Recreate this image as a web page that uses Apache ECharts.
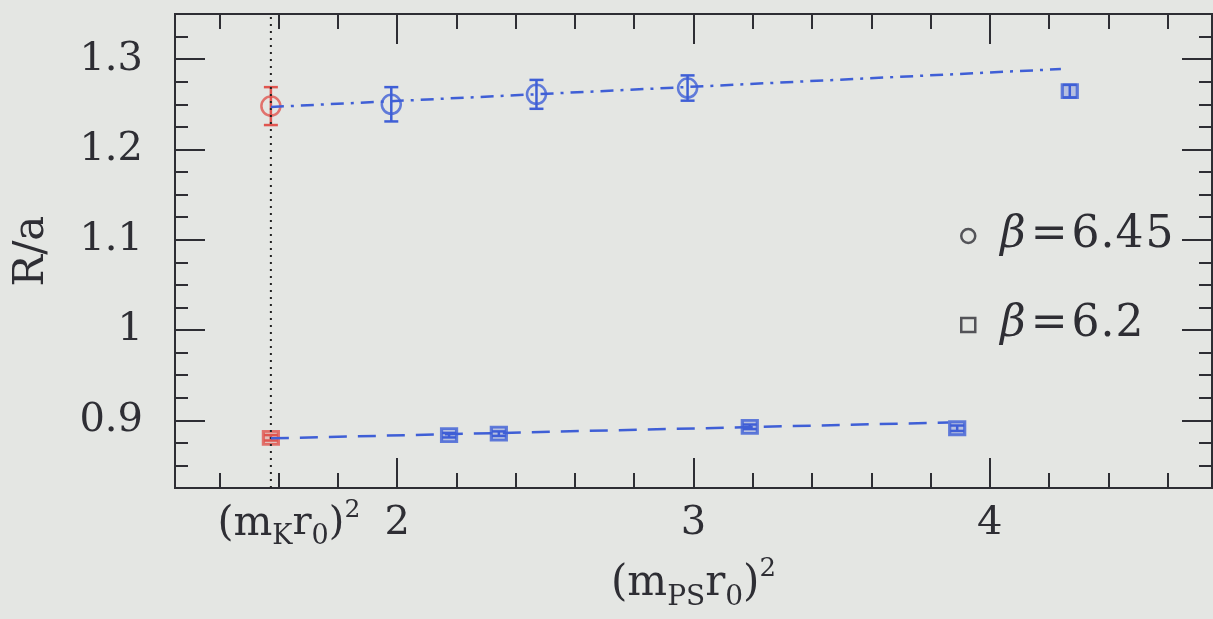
<!DOCTYPE html>
<html><head><meta charset="utf-8">
<script src="https://cdn.jsdelivr.net/npm/echarts@6/dist/echarts.min.js"></script>
<style>html,body{margin:0;padding:0;background:#e4e6e3;}#c{width:1213px;height:619px;}</style>
</head><body><div id="c"></div>
<script>
// ---- data ----
const mKr0sq = 1.5736;
const xMajorTicks = [2, 3, 4];
const xLabelValues = [1.5736, 2, 3, 4];
const xMinorTicks = [1.4, 1.6, 1.8, 2.2, 2.4, 2.6, 2.8, 3.2, 3.4, 3.6, 3.8, 4.2, 4.4, 4.6];
const yMajorTicks = [0.9, 1.0, 1.1, 1.2, 1.3];
const yMinorTicks = [0.85, 0.875, 0.925, 0.95, 0.975, 1.025, 1.05, 1.075, 1.125, 1.15, 1.175, 1.225, 1.25, 1.275, 1.325];

// beta = 6.45 (circles)
const circX = [1.98, 2.47, 2.98];
const circY = [1.250, 1.261, 1.268];
const circErr = [0.019, 0.016, 0.014];
// beta = 6.2 (squares)
const sqX = [2.175, 2.343, 3.19, 3.89, 4.27];
const sqY = [0.8835, 0.8852, 0.8928, 0.8912, 1.2645];
const sqErr = [0.0025, 0.0025, 0.0025, 0.003, 0.007];
// interpolated values at (m_K r0)^2 (red)
const chiralCircY = [1.248];
const chiralCircErr = [0.021];
const chiralSqY = [0.8806];
const chiralSqErr = [0.003];
// fit lines
const fit645X = [1.5736, 4.24];
const fit645Y = [1.247, 1.289];
const fit62X = [1.5736, 3.86];
const fit62Y = [0.8800, 0.8976];
// vertical marker line
const vlineX = [1.5736, 1.5736];
const vlineY = [0.825, 1.35];

const BLUE = '#3f5fd6';
const RED = '#e0554f';
const INK = '#2e2e34';
const FONT = 'DejaVu Serif';

const zip = (a, b, c) => a.map((v, i) => c ? [v, b[i], c[i]] : [v, b[i]]);

function errRender(color) {
  return function (params, api) {
    const x = api.value(0), y = api.value(1), e = api.value(2);
    const p0 = api.coord([x, y - e]), p1 = api.coord([x, y + e]);
    const w = 7;
    const st = { stroke: color, lineWidth: 2.5 };
    return { type: 'group', children: [
      { type: 'line', shape: { x1: p0[0], y1: p0[1], x2: p1[0], y2: p1[1] }, style: st },
      { type: 'line', shape: { x1: p0[0] - w, y1: p0[1], x2: p0[0] + w, y2: p0[1] }, style: st },
      { type: 'line', shape: { x1: p1[0] - w, y1: p1[1], x2: p1[0] + w, y2: p1[1] }, style: st }
    ]};
  };
}

const richTick = {
  p: { fontSize: 40, fontFamily: FONT, color: INK, lineHeight: 52 },
  sub: { fontSize: 27, fontFamily: FONT, color: INK, lineHeight: 26, verticalAlign: 'bottom' },
  sup: { fontSize: 25, fontFamily: FONT, color: INK, lineHeight: 26, verticalAlign: 'top' },
  pad: { fontSize: 41, fontFamily: FONT, color: INK, lineHeight: 52, padding: [0, 0, 0, 36] }
};
const richName = {
  p: { fontSize: 42, fontFamily: FONT, color: INK, lineHeight: 56 },
  sub: { fontSize: 28, fontFamily: FONT, color: INK, lineHeight: 28, verticalAlign: 'bottom' },
  sup: { fontSize: 26, fontFamily: FONT, color: INK, lineHeight: 28, verticalAlign: 'top' }
};

function xAxisBase(pos, ticks, len, showLabel) {
  return {
    type: 'value', position: pos, min: 1.25, max: 4.75,
    axisLine: { show: true, onZero: false, lineStyle: { color: INK, width: 2 } },
    axisTick: { show: true, inside: true, length: len, customValues: ticks, lineStyle: { color: INK, width: 2 } },
    axisLabel: showLabel ? {
      show: true, customValues: xLabelValues, margin: 10,
      formatter: v => Math.abs(v - mKr0sq) < 1e-6
        ? '{pad|(m}{sub|K}{p|r}{sub|0}{p|)}{sup|2}'
        : '{p|' + Math.round(v) + '}',
      rich: richTick
    } : { show: false },
    splitLine: { show: false }
  };
}
function yAxisBase(pos, ticks, len, showLabel) {
  return {
    type: 'value', position: pos, min: 0.825, max: 1.35,
    axisLine: { show: true, onZero: false, lineStyle: { color: INK, width: 2 } },
    axisTick: { show: true, inside: true, length: len, customValues: ticks, lineStyle: { color: INK, width: 2 } },
    axisLabel: showLabel ? {
      show: true, customValues: yMajorTicks, margin: 32,
      fontSize: 40, fontFamily: FONT, color: INK,
      formatter: v => (Math.abs(v - 1) < 1e-9 ? '1' : v.toFixed(1))
    } : { show: false },
    splitLine: { show: false }
  };
}

const xAxes = [
  Object.assign(xAxisBase('bottom', xMajorTicks, 30, true), {
    name: '{p|(m}{sub|PS}{p|r}{sub|0}{p|)}{sup|2}',
    nameLocation: 'middle', nameGap: 68,
    nameTextStyle: { rich: richName }
  }),
  xAxisBase('bottom', xMinorTicks, 15, false),
  xAxisBase('top', xMajorTicks, 30, false),
  xAxisBase('top', xMinorTicks, 15, false)
];
const yAxes = [
  Object.assign(yAxisBase('left', yMajorTicks, 30, true), {
    name: 'R/a', nameLocation: 'middle', nameGap: 122, nameRotate: 90,
    nameTextStyle: { fontSize: 42, fontFamily: FONT, color: INK }
  }),
  yAxisBase('left', yMinorTicks, 13, false),
  yAxisBase('right', yMajorTicks, 30, false),
  yAxisBase('right', yMinorTicks, 13, false)
];

const legendPad = c => (c === '=' ? 'e' : c === '.' ? 'd' : 'n');

const chart = echarts.init(document.getElementById('c'), null, { renderer: 'canvas' });
chart.setOption({
  backgroundColor: '#e4e6e3',
  animation: false,
  grid: { left: 175, right: 1, top: 14, bottom: 131, containLabel: false, outerBoundsMode: 'none' },
  xAxis: xAxes,
  yAxis: yAxes,
  legend: {
    orient: 'vertical', left: 955, top: 209, itemGap: 45,
    itemWidth: 14, itemHeight: 14,
    data: [
      { name: 'β=6.45', icon: 'circle', itemStyle: { color: 'rgba(0,0,0,0)', borderColor: INK, borderWidth: 2.5 } },
      { name: 'β=6.2', icon: 'rect', itemStyle: { color: 'rgba(0,0,0,0)', borderColor: INK, borderWidth: 2.5 } }
    ],
    formatter: n => '{b|β}' + n.slice(1).split('').map(c => '{' + legendPad(c) + '|' + c + '}').join(''),
    textStyle: {
      color: INK,
      rich: {
        b: { fontSize: 44, fontFamily: FONT, fontStyle: 'italic', color: INK, padding: [0, 2, 0, 20] },
        e: { fontSize: 44, fontFamily: FONT, color: INK, padding: [0, 3, 0, 3] },
        d: { fontSize: 44, fontFamily: FONT, color: INK, padding: [0, 0, 0, 0] },
        n: { fontSize: 44, fontFamily: FONT, color: INK, padding: [0, 1, 0, 1] }
      }
    }
  },
  series: [
    { type: 'line', data: zip(vlineX, vlineY), symbol: 'none', silent: true,
      lineStyle: { color: '#222', width: 2, type: [2, 5] } },
    { type: 'line', data: zip(fit645X, fit645Y), symbol: 'none', silent: true,
      lineStyle: { color: BLUE, width: 2.5, type: [13, 7, 3, 7] } },
    { type: 'line', data: zip(fit62X, fit62Y), symbol: 'none', silent: true,
      lineStyle: { color: BLUE, width: 2.5, type: [18, 11] } },
    { type: 'custom', renderItem: errRender(BLUE), data: zip(circX, circY, circErr), silent: true },
    { type: 'custom', renderItem: errRender(BLUE), data: zip(sqX, sqY, sqErr), silent: true },
    { type: 'custom', renderItem: errRender(RED), data: [[mKr0sq, chiralCircY[0], chiralCircErr[0]], [mKr0sq, chiralSqY[0], chiralSqErr[0]]], silent: true },
    { name: 'β=6.45', type: 'scatter', data: zip(circX, circY), symbol: 'circle', symbolSize: 19,
      itemStyle: { color: 'rgba(0,0,0,0)', borderColor: BLUE, borderWidth: 2.5 } },
    { name: 'β=6.2', type: 'scatter', data: zip(sqX, sqY), symbol: 'rect', symbolSize: [15, 13],
      itemStyle: { color: 'rgba(63,95,214,0.35)', borderColor: BLUE, borderWidth: 3 } },
    { type: 'scatter', data: chiralCircY.map(v => [mKr0sq, v]), symbol: 'circle', symbolSize: 19,
      itemStyle: { color: 'rgba(0,0,0,0)', borderColor: RED, borderWidth: 2.5 } },
    { type: 'scatter', data: chiralSqY.map(v => [mKr0sq, v]), symbol: 'rect', symbolSize: [15, 13],
      itemStyle: { color: 'rgba(224,85,79,0.35)', borderColor: RED, borderWidth: 3 } }
  ]
});
</script>
</body></html>
